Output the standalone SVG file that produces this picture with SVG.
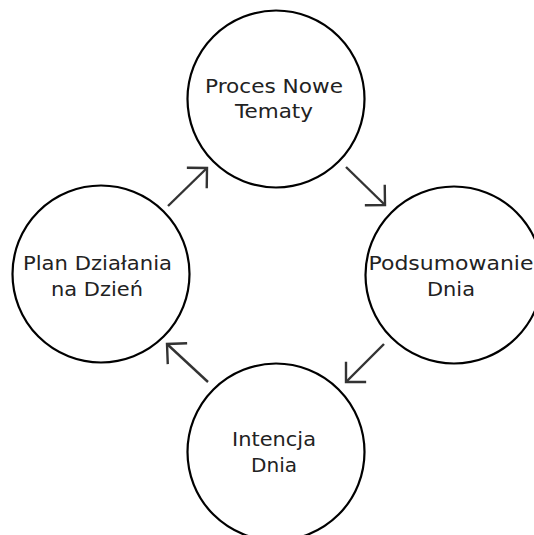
<svg xmlns="http://www.w3.org/2000/svg" width="534" height="535" viewBox="0 0 534 535">
<defs>
<style>
.node circle{fill:#fff;stroke:#000;stroke-width:2.2}
.node text{font-family:"DejaVu Sans","Open Sans",sans-serif;font-size:19.5px;fill:#222;text-anchor:middle}
.conn line{stroke:#333;stroke-width:2.4;fill:none}
</style>
<marker id="chev" markerUnits="userSpaceOnUse" markerWidth="40" markerHeight="40" viewBox="-20 -20 40 40" refX="0" refY="0" orient="auto" overflow="visible">
<path d="M-13.4,-13.4 L0,0 L-13.4,13.4" fill="none" stroke="#333" stroke-width="2.4" stroke-linecap="square"/>
</marker>
</defs>
<rect width="534" height="535" fill="#fff"/>
<g id="node-top" class="node">
<circle cx="276" cy="99" r="88.5"/>
<text x="274" y="93" textLength="138" lengthAdjust="spacingAndGlyphs">Proces Nowe</text>
<text x="274" y="118" textLength="78" lengthAdjust="spacingAndGlyphs">Tematy</text>
</g>
<g id="node-right" class="node">
<circle cx="454" cy="275" r="88.5"/>
<text x="451" y="270" textLength="165" lengthAdjust="spacingAndGlyphs">Podsumowanie</text>
<text x="451" y="296" textLength="48" lengthAdjust="spacingAndGlyphs">Dnia</text>
</g>
<g id="node-bottom" class="node">
<circle cx="276" cy="452" r="88.5"/>
<text x="274" y="446" textLength="84" lengthAdjust="spacingAndGlyphs">Intencja</text>
<text x="274" y="472" textLength="46" lengthAdjust="spacingAndGlyphs">Dnia</text>
</g>
<g id="node-left" class="node">
<circle cx="101" cy="274" r="88.5"/>
<text x="97.5" y="270" textLength="149" lengthAdjust="spacingAndGlyphs">Plan Działania</text>
<text x="97" y="296" textLength="92" lengthAdjust="spacingAndGlyphs">na Dzień</text>
</g>
<g id="connectors" class="conn">
<line x1="346" y1="167" x2="385" y2="205" marker-end="url(#chev)"/>
<line x1="384" y1="344" x2="346" y2="382" marker-end="url(#chev)"/>
<line x1="208" y1="382" x2="167" y2="344" marker-end="url(#chev)"/>
<line x1="168" y1="206" x2="207" y2="168" marker-end="url(#chev)"/>
</g>
</svg>
